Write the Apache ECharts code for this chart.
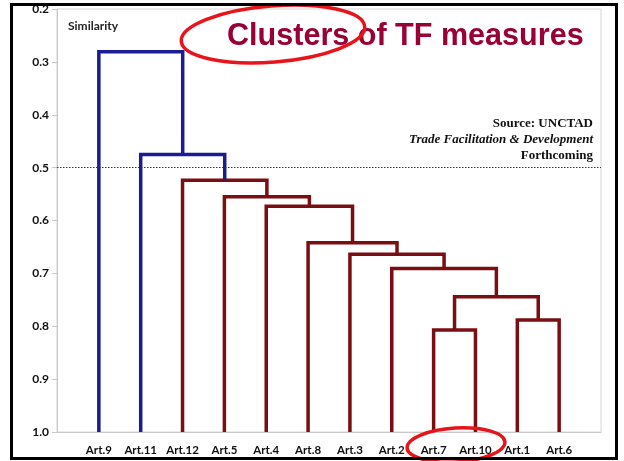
<!DOCTYPE html>
<html>
<head>
<meta charset="utf-8">
<script src="https://cdn.jsdelivr.net/npm/echarts@6/dist/echarts.min.js"></script>
<style>
  html, body { margin: 0; padding: 0; background: #fff; }
  #chart { width: 624px; height: 461px; }
</style>
</head>
<body>
<div id="chart"></div>
<script>
// leaf order along the bottom axis
const leaves = ['Art.9', 'Art.11', 'Art.12', 'Art.5', 'Art.4', 'Art.8', 'Art.3', 'Art.2', 'Art.7', 'Art.10', 'Art.1', 'Art.6'];

// merges N1..N11 : left child, right child, similarity level
const mergeLeft = ['Art.7', 'Art.1', 'N1', 'Art.2', 'Art.3', 'Art.8', 'Art.4', 'Art.5', 'Art.12', 'Art.11', 'Art.9'];
const mergeRight = ['Art.10', 'Art.6', 'N2', 'N3', 'N4', 'N5', 'N6', 'N7', 'N8', 'N9', 'N10'];
const mergeLevel = [0.807, 0.788, 0.744, 0.691, 0.664, 0.642, 0.573, 0.555, 0.524, 0.475, 0.281];
const mergeGroup = ['b', 'b', 'b', 'b', 'b', 'b', 'b', 'b', 'b', 'a', 'a'];

const yTicks = [0.2, 0.3, 0.4, 0.5, 0.6, 0.7, 0.8, 0.9, 1.0];
const cutLevel = 0.5;
const leafLevel = 1.0;

const colors = { a: '#1b1b94', b: '#7a0e12' };

// node position / level lookup
const nodes = {};
leaves.forEach((name, i) => { nodes[name] = { x: i + 1, y: leafLevel }; });
mergeLevel.forEach((h, i) => {
  const l = nodes[mergeLeft[i]];
  const r = nodes[mergeRight[i]];
  nodes['N' + (i + 1)] = { x: (l.x + r.x) / 2, y: h };
});

const series = mergeLevel.map((h, i) => {
  const l = nodes[mergeLeft[i]];
  const r = nodes[mergeRight[i]];
  return {
    type: 'line',
    data: [[l.x, l.y], [l.x, h], [r.x, h], [r.x, r.y]],
    showSymbol: false,
    silent: true,
    lineStyle: { color: colors[mergeGroup[i]], width: 3.5, join: 'miter' },
    z: 3
  };
});

series[0].markLine = {
  silent: true,
  symbol: 'none',
  label: { show: false },
  lineStyle: { color: '#333', width: 1, type: [1.5, 1.5] },
  data: [{ yAxis: cutLevel }]
};

const myChart = echarts.init(document.getElementById('chart'));
myChart.setOption({
  animation: false,
  grid: {
    left: 57, right: 23, top: 9, bottom: 29,
    show: true, borderColor: '#d6d6d6', borderWidth: 1
  },
  xAxis: {
    type: 'value',
    min: 0,
    max: leaves.length + 1,
    interval: 1,
    axisLine: { lineStyle: { color: '#c8c8c8' } },
    axisTick: { show: false },
    splitLine: { show: false },
    axisLabel: {
      margin: 12,
      fontFamily: 'Lato',
      fontWeight: 'bold',
      fontSize: 11.5,
      color: '#111',
      formatter: v => leaves[v - 1] || ''
    }
  },
  yAxis: {
    type: 'value',
    inverse: true,
    min: yTicks[0],
    max: yTicks[yTicks.length - 1],
    interval: 0.1,
    axisLine: { show: true, lineStyle: { color: '#c8c8c8' } },
    axisTick: { show: true, length: 5, lineStyle: { color: '#c8c8c8' } },
    splitLine: { show: false },
    axisLabel: {
      margin: 8,
      fontFamily: 'Lato',
      fontWeight: 'bold',
      fontSize: 12,
      color: '#111',
      formatter: v => v.toFixed(1)
    }
  },
  series: series,
  graphic: [
    {
      type: 'text', left: 68, top: 20,
      style: { text: 'Similarity', font: 'bold 12px Lato', fill: '#222' }
    },
    {
      type: 'text', x: 227, y: 36, scaleX: 0.955,
      style: {
        text: 'Clusters of TF measures',
        font: 'bold 32px "Liberation Sans"',
        fill: '#990033',
        verticalAlign: 'middle'
      }
    },
    {
      type: 'text', x: 593, y: 124,
      style: { text: 'Source: UNCTAD', font: 'bold 13px "Liberation Serif"', fill: '#111', align: 'right', verticalAlign: 'middle' }
    },
    {
      type: 'text', x: 593, y: 140,
      style: { text: 'Trade Facilitation & Development', font: 'italic bold 13px "Liberation Serif"', fill: '#111', align: 'right', verticalAlign: 'middle' }
    },
    {
      type: 'text', x: 593, y: 156,
      style: { text: 'Forthcoming', font: 'bold 13px "Liberation Serif"', fill: '#111', align: 'right', verticalAlign: 'middle' }
    },
    {
      type: 'ellipse', x: 273, y: 34, rotation: 0.08,
      shape: { cx: 0, cy: 0, rx: 92, ry: 28 },
      style: { fill: 'none', stroke: '#e8141c', lineWidth: 3.5 },
      z: 10
    },
    {
      type: 'ellipse', x: 456, y: 445, rotation: 0.06,
      shape: { cx: 0, cy: 0, rx: 49, ry: 17 },
      style: { fill: 'none', stroke: '#e8141c', lineWidth: 3.5 },
      z: 10
    },
    {
      type: 'rect',
      shape: { x: 11.5, y: 4.5, width: 605, height: 454 },
      style: { fill: 'none', stroke: '#000', lineWidth: 3 },
      z: 20
    }
  ]
});
</script>
</body>
</html>
